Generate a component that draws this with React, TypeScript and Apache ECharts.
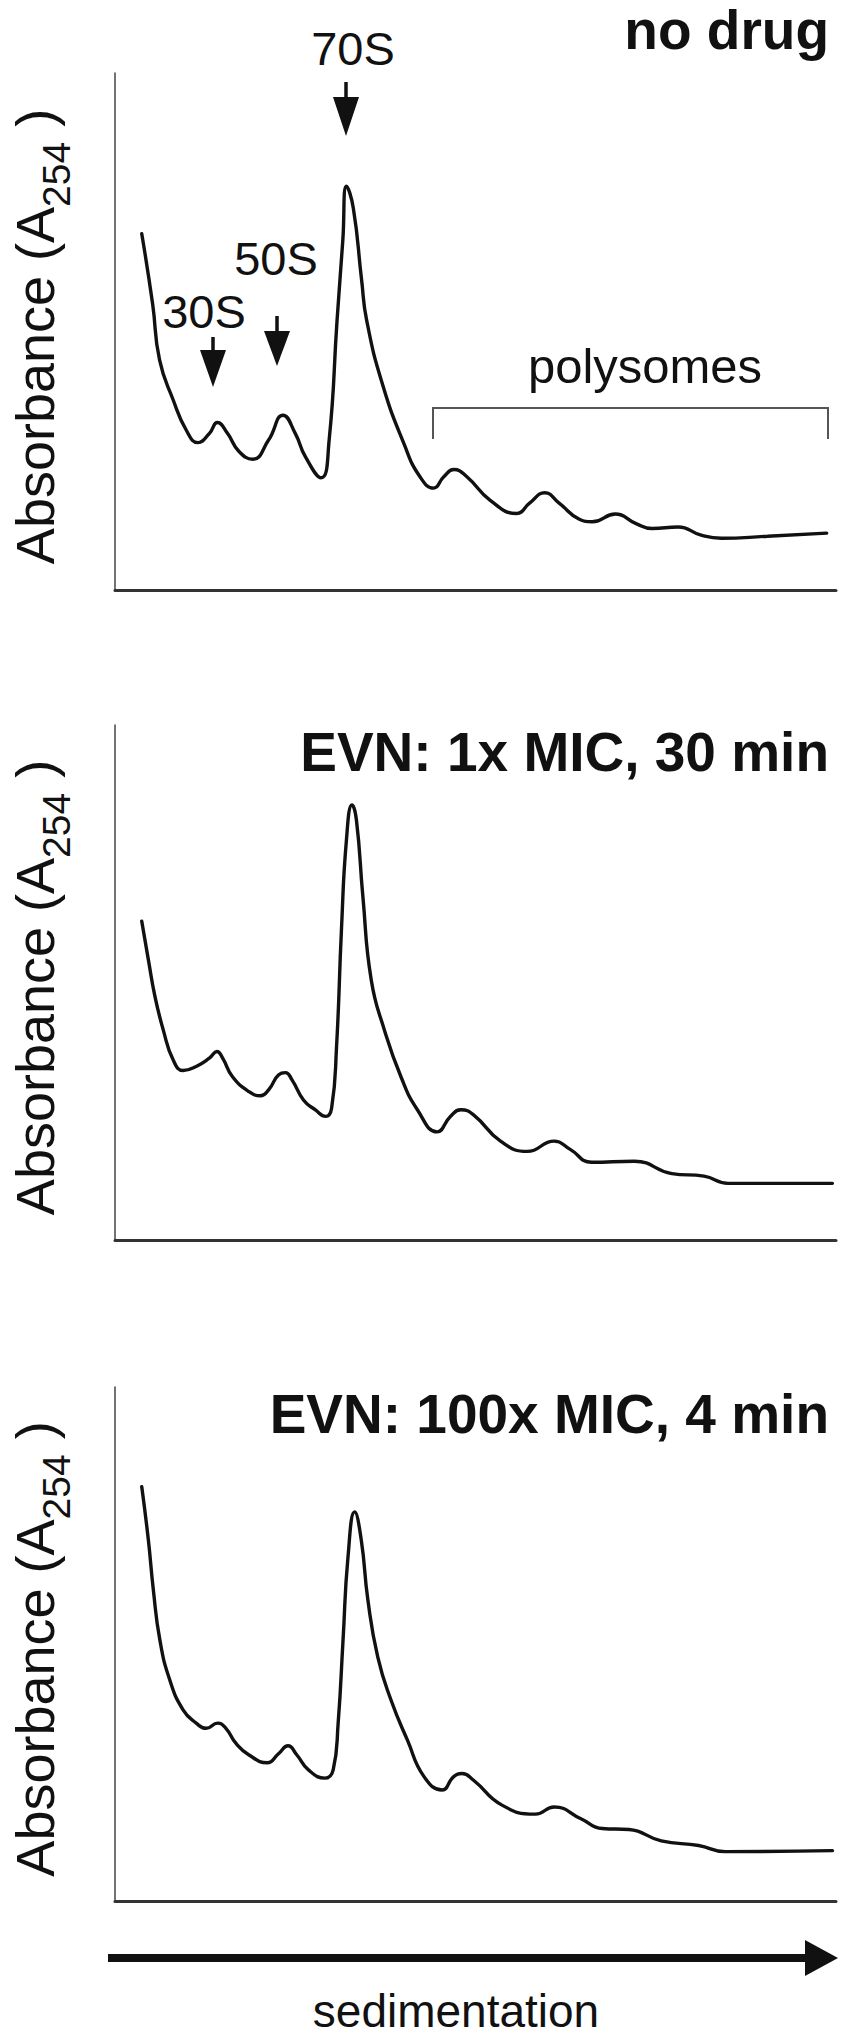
import React, { useEffect, useRef } from "react";
import * as echarts from "echarts";

const FONT = "'Liberation Sans', Arial, Helvetica, sans-serif";

const panelTitles = ["no drug", "EVN: 1x MIC, 30 min", "EVN: 100x MIC, 4 min"];
const peakLabels = ["30S", "50S", "70S"];
const polysomeLabel = "polysomes";
const xAxisTitle = "sedimentation";
const yAxisTitle = "{a|Absorbance (A}{s|254}{e| )}";

// [sedimentation position (% of gradient), absorbance (arbitrary units)]
const noDrug: [number, number][] = [
  [3.71, 68.9], [5.22, 55.3], [6.18, 44.5], [8.06, 36.8], [9.89, 30.9], [11.5, 28.5],
  [13.1, 30.3], [14.2, 32.4], [15.6, 30.3], [17.2, 26.8], [19.1, 25.3], [21.3, 29.0],
  [23.3, 33.8], [25.0, 30.3], [26.4, 25.8], [28.6, 21.7], [29.7, 29.0], [30.8, 52.2],
  [31.6, 67.7], [32.1, 78.1], [33.05, 73.9], [34.2, 60.0], [34.9, 52.2], [37.1, 39.8],
  [40.1, 28.2], [42.3, 21.9], [44.2, 19.7], [45.6, 21.9], [47.0, 23.3], [48.8, 21.9],
  [52.0, 17.4], [55.7, 14.8], [57.5, 16.8], [59.6, 18.8], [61.6, 16.8], [64.4, 13.7],
  [66.2, 13.2], [69.4, 14.7], [72.2, 12.9], [74.5, 11.9], [78.1, 12.2], [81.3, 10.6],
  [84.1, 10.0], [90.5, 10.4], [98.7, 11.0],
];

const evn1x30min: [number, number][] = [
  [3.71, 61.9], [4.63, 54.4], [5.54, 47.3], [6.69, 40.8], [8.06, 35.0], [9.44, 32.9],
  [11.26, 33.7], [13.09, 35.3], [14.15, 36.6], [14.93, 35.3], [16.3, 31.7], [18.59, 28.8],
  [20.19, 28.0], [21.33, 29.2], [22.71, 32.1], [23.63, 32.5], [24.55, 31.1], [26.14, 27.2],
  [27.75, 25.3], [29.22, 24.0], [30.04, 25.6], [30.73, 37.6], [31.41, 60.3], [32.1, 77.7],
  [32.87, 84.5], [33.48, 81.6], [34.38, 66.7], [35.54, 50.5], [37.36, 40.8], [39.66, 31.7],
  [41.94, 25.3], [44.68, 21.0], [46.52, 24.0], [47.98, 25.3], [49.73, 24.3], [53.47, 19.2],
  [57.18, 17.2], [60.91, 19.2], [63.13, 17.6], [66.1, 15.1], [72.03, 15.3], [77.24, 12.9],
  [81.69, 12.4], [85.03, 11.0], [99.5, 11.0],
];

const evn100x4min: [number, number][] = [
  [3.71, 80.6], [4.63, 70.2], [5.32, 60.5], [6.22, 50.8], [7.6, 43.0], [9.44, 37.2],
  [11.26, 34.6], [12.64, 33.6], [14.24, 34.6], [15.38, 33.6], [16.76, 30.7], [18.59, 28.4],
  [21.11, 26.9], [22.71, 28.7], [23.99, 30.2], [25.23, 28.4], [26.83, 25.5], [29.12, 23.9],
  [30.26, 25.5], [30.95, 34.6], [31.63, 50.8], [32.32, 67.0], [33.24, 75.7], [34.16, 70.2],
  [35.07, 58.6], [36.44, 47.5], [38.28, 39.1], [40.56, 31.3], [42.86, 24.2], [45.37, 21.6],
  [46.98, 24.2], [48.12, 24.8], [49.73, 23.5], [53.61, 18.7], [58.3, 16.9], [60.91, 18.3],
  [64.62, 16.0], [67.58, 14.1], [71.29, 13.9], [75.76, 11.7], [80.95, 10.8], [84.66, 9.6],
  [99.5, 9.8],
];

const profiles = [noDrug, evn1x30min, evn100x4min];

export default function App() {
  const ref = useRef<HTMLDivElement>(null);

  useEffect(() => {
    if (!ref.current) return;
    const chart = echarts.init(ref.current, null, { renderer: "svg" });

    const grids = [
      { left: 108, top: 73, width: 728, height: 517 },
      { left: 108, top: 725, width: 728, height: 515 },
      { left: 108, top: 1387, width: 728, height: 514 },
    ];
    const titleY = [30, 752, 1414];
    const ink = "#111";

    const xAxes = grids.map((_, i) => ({
      type: "value",
      gridIndex: i,
      min: 0,
      max: 100,
      axisLine: { show: true, lineStyle: { color: "#333", width: 3 } },
      axisTick: { show: false },
      axisLabel: { show: false },
      splitLine: { show: false },
    }));

    const yAxes = grids.map((_, i) => ({
      type: "value",
      gridIndex: i,
      min: 0,
      max: 100,
      name: yAxisTitle,
      nameLocation: "middle",
      nameRotate: 90,
      nameGap: 45,
      nameTextStyle: {
        color: ink,
        fontFamily: FONT,
        rich: {
          a: { fontSize: 54, fontFamily: FONT, color: ink, lineHeight: 62, verticalAlign: "top" },
          s: { fontSize: 39, fontFamily: FONT, color: ink, lineHeight: 39, verticalAlign: "top", padding: [29, 0, 0, 0] },
          e: { fontSize: 54, fontFamily: FONT, color: ink, lineHeight: 62, verticalAlign: "top", padding: [0, 10, 0, 0] },
        },
      },
      axisLine: { show: true, onZero: false, lineStyle: { color: "#444", width: 1.5 } },
      axisTick: { show: false },
      axisLabel: { show: false },
      splitLine: { show: false },
    }));

    const series = profiles.map((d, i) => ({
      type: "line",
      xAxisIndex: i,
      yAxisIndex: i,
      data: d,
      showSymbol: false,
      smooth: 0.5,
      lineStyle: { color: ink, width: 3.4, join: "round", cap: "round" },
      silent: true,
    }));

    const text = (t: string, x: number, y: number, size: number, align: string, bold = false) => ({
      type: "text",
      x,
      y,
      silent: true,
      style: {
        text: t,
        fill: ink,
        font: `${bold ? "bold " : ""}${size}px ${FONT}`,
        lineHeight: size,
        textAlign: align,
        textVerticalAlign: "middle",
      },
    });

    const arrow = (cx: number, top: number, headTop: number, tip: number, half: number) => [
      { type: "line", silent: true, shape: { x1: cx, y1: top, x2: cx, y2: headTop + 4 }, style: { stroke: ink, lineWidth: 3.5 } },
      { type: "polygon", silent: true, shape: { points: [[cx - half, headTop], [cx + half, headTop], [cx, tip]] }, style: { fill: ink } },
    ];

    const graphic: any[] = [
      ...panelTitles.map((t, i) => text(t, 829, titleY[i], 55, "right", true)),
      text(peakLabels[0], 204, 311.5, 47, "center"),
      text(peakLabels[1], 276, 258.5, 47, "center"),
      text(peakLabels[2], 353, 48, 47, "center"),
      ...arrow(213, 337, 350, 387, 13),
      ...arrow(277, 316, 331, 366, 13),
      ...arrow(346, 82, 97, 136, 13),
      {
        type: "polyline",
        silent: true,
        shape: { points: [[433, 439], [433, 408], [828, 408], [828, 439]] },
        style: { stroke: "#555", lineWidth: 2, fill: null },
      },
      text(polysomeLabel, 645, 366, 49, "center"),
      { type: "line", silent: true, shape: { x1: 108, y1: 1958, x2: 812, y2: 1958 }, style: { stroke: ink, lineWidth: 8 } },
      { type: "polygon", silent: true, shape: { points: [[805, 1940], [838, 1958], [805, 1976]] }, style: { fill: ink } },
      text(xAxisTitle, 456, 2011, 46, "center"),
    ];

    chart.setOption({
      animation: false,
      backgroundColor: "#fff",
      grid: grids,
      xAxis: xAxes,
      yAxis: yAxes,
      series,
      graphic,
    } as any);

    return () => chart.dispose();
  }, []);

  return (
    <div
      ref={ref}
      style={{ position: "absolute", left: 0, top: 0, width: 847, height: 2040, background: "#fff" }}
    />
  );
}
